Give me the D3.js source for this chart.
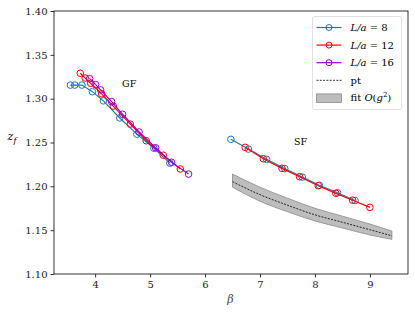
<!DOCTYPE html>
<html>
<head>
<meta charset="utf-8">
<script src="https://cdn.jsdelivr.net/npm/d3@7"></script>
<style>
  body { margin: 0; background: #fff; }
  svg text { font-family: "DejaVu Serif", "Liberation Serif", serif; }
</style>
</head>
<body>
<div id="chart"></div>
<script>
// GF regime
const betaGF8 = [3.55, 3.63, 3.76, 3.95, 4.15, 4.45, 4.76, 5.07, 5.36];
const zGF8 = [1.3155, 1.3155, 1.3155, 1.308, 1.2975, 1.278, 1.2595, 1.2435, 1.2265];
const betaGF12 = [3.73, 3.82, 3.92, 4.12, 4.33, 4.64, 4.93, 5.24, 5.55];
const zGF12 = [1.329, 1.3235, 1.3175, 1.3055, 1.2915, 1.271, 1.252, 1.2355, 1.2198];
const betaGF16 = [3.90, 4.01, 4.10, 4.30, 4.50, 4.80, 5.10, 5.39, 5.70];
const zGF16 = [1.3228, 1.316, 1.31, 1.2966, 1.2822, 1.262, 1.244, 1.2274, 1.214];
// SF regime
const betaSF8 = [6.47, 6.79, 7.12, 7.45, 7.77, 8.08, 8.41, 8.73];
const zSF8 = [1.2536, 1.2425, 1.2308, 1.2203, 1.2105, 1.2012, 1.1927, 1.1838];
const betaSF12 = [6.73, 7.06, 7.40, 7.72, 8.06, 8.38, 8.685, 9.0];
const zSF12 = [1.2445, 1.2315, 1.2205, 1.211, 1.2007, 1.192, 1.1842, 1.176];
// perturbation theory + O(g^2) fit band
const betaFit = [6.5, 7.0, 7.5, 8.0, 8.5, 9.0, 9.4];
const zPT = [1.2053, 1.1905, 1.1785, 1.1675, 1.1590, 1.1505, 1.1435];
const fitHi = [1.2140, 1.1990, 1.1865, 1.1750, 1.1660, 1.1570, 1.1490];
const fitLo = [1.1990, 1.1830, 1.1710, 1.1605, 1.1525, 1.1445, 1.1395];

const yTicks = [1.10, 1.15, 1.20, 1.25, 1.30, 1.35, 1.40];
const xTicks = [4, 5, 6, 7, 8, 9];

const width = 415, height = 314;
const margin = {top: 11, right: 7, bottom: 40, left: 54};
const serif = '"DejaVu Serif", "Liberation Serif", serif';

const svg = d3.select('#chart').append('svg')
    .attr('width', width)
    .attr('height', height);

const x = d3.scaleLinear().domain([3.252, 9.693]).range([margin.left, width - margin.right]);
const y = d3.scaleLinear().domain([1.10, 1.40]).range([height - margin.bottom, margin.top]);

const colors = {L8: '#1f77b4', L12: '#ff0000', L16: '#9400d3'};

// fit band
const band = betaFit.map((b, i) => ({b: b, lo: fitLo[i], hi: fitHi[i], pt: zPT[i]}));
svg.append('path')
    .datum(band)
    .attr('fill', '#bdbdbd')
    .attr('stroke', '#8a8a8a')
    .attr('stroke-width', 0.8)
    .attr('d', d3.area().curve(d3.curveMonotoneX)
        .x(d => x(d.b)).y0(d => y(d.lo)).y1(d => y(d.hi)));
svg.append('path')
    .datum(band)
    .attr('fill', 'none')
    .attr('stroke', '#000')
    .attr('stroke-width', 0.8)
    .attr('stroke-dasharray', '2,1.3')
    .attr('d', d3.line().curve(d3.curveMonotoneX).x(d => x(d.b)).y(d => y(d.pt)));

const series = [
    {xs: betaGF8, ys: zGF8, c: colors.L8},
    {xs: betaSF8, ys: zSF8, c: colors.L8},
    {xs: betaGF12, ys: zGF12, c: colors.L12},
    {xs: betaSF12, ys: zSF12, c: colors.L12},
    {xs: betaGF16, ys: zGF16, c: colors.L16}
];

const line = d3.line().x(d => x(d[0])).y(d => y(d[1]));
series.forEach(s => {
    const pts = s.xs.map((b, i) => [b, s.ys[i]]);
    svg.append('path')
        .datum(pts)
        .attr('fill', 'none')
        .attr('stroke', s.c)
        .attr('stroke-width', 1.2)
        .attr('d', line);
    svg.append('g').selectAll('circle')
        .data(pts)
        .enter()
        .append('circle')
        .attr('cx', d => x(d[0]))
        .attr('cy', d => y(d[1]))
        .attr('r', 3.3)
        .attr('fill', 'none')
        .attr('stroke', s.c)
        .attr('stroke-width', 1);
});

// axes
const xAxis = svg.append('g')
    .attr('transform', `translate(0,${height - margin.bottom})`)
    .call(d3.axisBottom(x).tickValues(xTicks).tickSize(3.5).tickPadding(3).tickFormat(d3.format('d')));
const yAxis = svg.append('g')
    .attr('transform', `translate(${margin.left},0)`)
    .call(d3.axisLeft(y).tickValues(yTicks).tickSize(3.5).tickPadding(3).tickFormat(d3.format('.2f')));
[xAxis, yAxis].forEach(a => {
    a.select('.domain').remove();
    a.selectAll('line').attr('stroke', '#000').attr('stroke-width', 0.8);
    a.selectAll('text').attr('fill', '#222').style('font-size', '10px')
        .style('font-family', serif);
});

// frame
svg.append('rect')
    .attr('x', margin.left)
    .attr('y', margin.top)
    .attr('width', width - margin.left - margin.right)
    .attr('height', height - margin.top - margin.bottom)
    .attr('fill', 'none')
    .attr('stroke', '#000')
    .attr('stroke-width', 0.8);

// axis labels
const yl = svg.append('text')
    .attr('x', 12)
    .attr('y', 140)
    .attr('text-anchor', 'middle')
    .style('font-family', serif)
    .style('font-size', '11px');
yl.append('tspan').attr('font-style', 'italic').text('z');
yl.append('tspan').attr('font-style', 'italic').attr('dy', 3).style('font-size', '8px').text('f');

svg.append('text')
    .attr('x', x(6.46))
    .attr('y', 303)
    .attr('text-anchor', 'middle')
    .attr('font-style', 'italic')
    .attr('fill', '#444')
    .style('font-family', serif)
    .style('font-size', '11px')
    .text('β');

// region labels
svg.append('text').attr('x', x(4.62)).attr('y', y(1.3135)).attr('text-anchor', 'middle')
    .style('font-family', serif).style('font-size', '9.5px').text('GF');
svg.append('text').attr('x', x(7.74)).attr('y', y(1.2475)).attr('text-anchor', 'middle')
    .style('font-family', serif).style('font-size', '9.5px').text('SF');

// legend
const lg = svg.append('g').attr('transform', 'translate(312.5,16.5)');
lg.append('rect')
    .attr('width', 89)
    .attr('height', 93)
    .attr('rx', 2)
    .attr('fill', '#fff')
    .attr('fill-opacity', 0.8)
    .attr('stroke', '#d9d9d9')
    .attr('stroke-width', 0.8);

const legendItems = [
    {type: 'marker', c: colors.L8, n: '8'},
    {type: 'marker', c: colors.L12, n: '12'},
    {type: 'marker', c: colors.L16, n: '16'},
    {type: 'dash'},
    {type: 'band'}
];
legendItems.forEach((it, i) => {
    const g = lg.append('g').attr('transform', `translate(0,${11 + i * 17.6})`);
    if (it.type === 'marker') {
        g.append('line').attr('x1', 4).attr('x2', 29).attr('stroke', it.c).attr('stroke-width', 1.2);
        g.append('circle').attr('cx', 16.5).attr('r', 3).attr('fill', 'none').attr('stroke', it.c);
        const t = g.append('text').attr('x', 38).attr('y', 3.5)
            .style('font-family', serif).style('font-size', '10px');
        t.append('tspan').attr('font-style', 'italic').text('L/a');
        t.append('tspan').text(' = ' + it.n);
    } else if (it.type === 'dash') {
        g.append('line').attr('x1', 4).attr('x2', 29).attr('stroke', '#000')
            .attr('stroke-width', 0.8).attr('stroke-dasharray', '2,1.3');
        g.append('text').attr('x', 38).attr('y', 3.5)
            .style('font-family', serif).style('font-size', '10px').text('pt');
    } else {
        g.append('rect').attr('x', 4).attr('y', -4).attr('width', 25).attr('height', 8.5)
            .attr('fill', '#bdbdbd').attr('stroke', '#8a8a8a').attr('stroke-width', 0.8);
        const t = g.append('text').attr('x', 38).attr('y', 3.5)
            .style('font-family', serif).style('font-size', '10px');
        t.append('tspan').text('fit ');
        t.append('tspan').attr('font-style', 'italic').text('O');
        t.append('tspan').text('(');
        t.append('tspan').attr('font-style', 'italic').text('g');
        t.append('tspan').attr('dy', -4).style('font-size', '7px').text('2');
        t.append('tspan').attr('dy', 4).text(')');
    }
});
</script>
</body>
</html>
